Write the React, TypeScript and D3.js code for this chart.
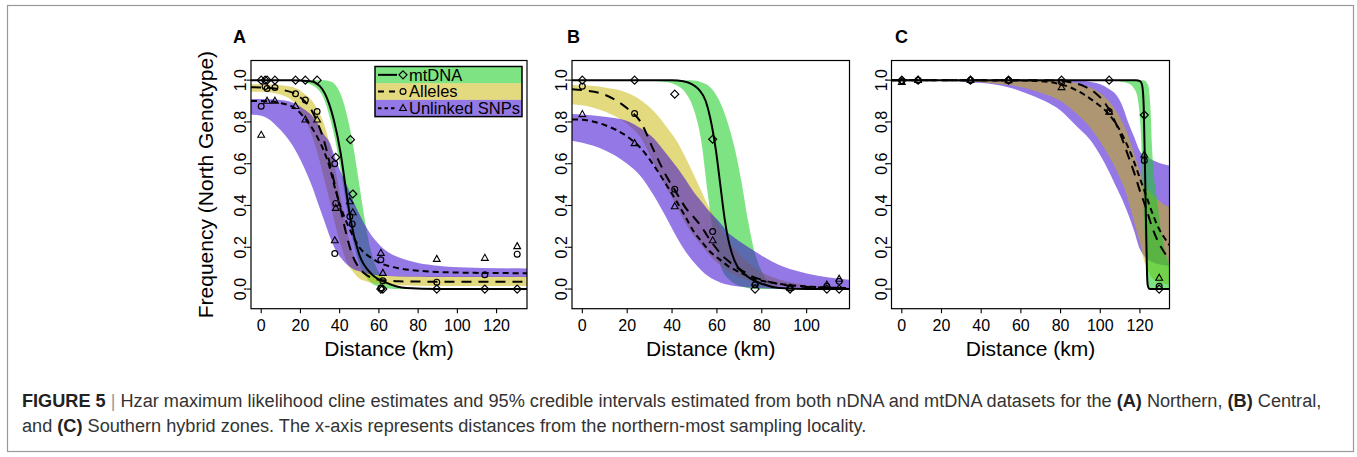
import React from "react";
import * as d3 from "d3";

type Band = [number, number, number][]; // km, lower, upper
type Pts = [number, number][]; // km, frequency

// ---------- Panel A (Northern) ----------
const aMtBand: Band = [
  [-5.2, 1, 1], [0, 1, 1], [10, 1, 1], [18, 0.997, 1], [22, 0.99, 1], [26, 0.975, 1],
  [29, 0.955, 1], [32, 0.91, 1], [35, 0.82, 0.995], [38, 0.7, 0.975], [41, 0.54, 0.92],
  [44, 0.37, 0.82], [47, 0.22, 0.68], [50, 0.12, 0.5], [53, 0.065, 0.32], [56, 0.03, 0.18],
  [60, 0.012, 0.08], [65, 0.003, 0.03], [70, 0, 0.012], [80, 0, 0.002], [90, 0, 0],
  [135.5, 0, 0],
];
const aAlBand: Band = [
  [-5.2, 0.945, 0.98], [0, 0.945, 0.98], [10, 0.93, 0.975], [18, 0.88, 0.96], [22, 0.82, 0.935],
  [26, 0.73, 0.9], [29, 0.64, 0.855], [32, 0.53, 0.79], [35, 0.42, 0.69], [38, 0.3, 0.56],
  [41, 0.2, 0.41], [44, 0.12, 0.27], [47, 0.08, 0.165], [50, 0.05, 0.11], [53, 0.038, 0.088],
  [56, 0.03, 0.075], [60, 0.025, 0.068], [65, 0.02, 0.064], [70, 0.018, 0.062],
  [80, 0.016, 0.061], [90, 0.015, 0.06], [135.5, 0.015, 0.06],
];
const aSnpBand: Band = [
  [-5.2, 0.835, 0.91], [0, 0.83, 0.91], [10, 0.76, 0.905], [18, 0.655, 0.885], [22, 0.58, 0.86],
  [26, 0.49, 0.83], [29, 0.41, 0.79], [32, 0.33, 0.74], [35, 0.25, 0.7], [38, 0.185, 0.62],
  [41, 0.145, 0.55], [44, 0.115, 0.49], [47, 0.095, 0.42], [50, 0.085, 0.36], [53, 0.077, 0.305],
  [56, 0.07, 0.26], [60, 0.066, 0.215], [65, 0.062, 0.175], [70, 0.06, 0.152], [80, 0.059, 0.125],
  [90, 0.058, 0.112], [105, 0.058, 0.103], [120, 0.058, 0.1], [135.5, 0.058, 0.098],
];
const aMtLine: Pts = [
  [-5.2, 1], [15, 1], [25, 0.995], [30, 0.97], [34.5, 0.89], [37, 0.81], [40.5, 0.65], [43, 0.49],
  [45.6, 0.33], [49.8, 0.17], [55.8, 0.076], [64, 0.03], [74, 0.005], [90, 0], [135.5, 0],
];
const aAlLine: Pts = [
  [-5.2, 0.966], [0, 0.965], [10, 0.955], [18, 0.93], [22, 0.9], [26, 0.85], [29, 0.79], [32, 0.71],
  [35, 0.6], [38, 0.48], [41, 0.36], [44, 0.24], [47, 0.15], [50, 0.1], [53, 0.072], [56, 0.055],
  [60, 0.045], [65, 0.04], [70, 0.037], [80, 0.036], [90, 0.035], [135.5, 0.035],
];
const aSnpLine: Pts = [
  [-5.2, 0.9], [0, 0.9], [10, 0.89], [18, 0.86], [22, 0.82], [26, 0.77], [29, 0.72], [32, 0.66],
  [35, 0.58], [38, 0.47], [41, 0.38], [44, 0.31], [47, 0.25], [50, 0.2], [53, 0.17], [56, 0.15],
  [60, 0.127], [65, 0.11], [70, 0.1], [80, 0.088], [90, 0.082], [105, 0.078], [135.5, 0.076],
];
const aMtPts: Pts = [
  [0, 1], [2, 1], [3, 1], [7, 1], [17.5, 1], [22.5, 1], [28.5, 1], [38, 0.63], [45.5, 0.715],
  [46.7, 0.455], [61, 0], [62, 0], [89.5, 0], [114, 0], [130.5, 0],
];
const aAlPts: Pts = [
  [0, 0.875], [2, 0.97], [3, 0.96], [7, 0.965], [17.5, 0.935], [22.5, 0.905], [28.5, 0.85],
  [37.5, 0.6], [38, 0.41], [37.5, 0.17], [45.2, 0.347], [46.4, 0.312], [61, 0.14], [62, 0.04],
  [61, 0.005], [89.5, 0.033], [114, 0.068], [130.5, 0.167],
];
const aSnpPts: Pts = [
  [0, 0.737], [3, 0.9], [7, 0.9], [17.5, 0.875], [22.5, 0.81], [28.5, 0.81], [37.5, 0.232],
  [38, 0.387], [45.2, 0.419], [46.7, 0.366], [61, 0.172], [62, 0.076], [89.5, 0.143],
  [114, 0.148], [130.5, 0.204],
];

// ---------- Panel B (Central) ----------
const bMtBand: Band = [
  [-4.6, 1, 1], [0, 1, 1], [10, 1, 1], [20, 0.999, 1], [26, 0.998, 1], [32, 0.996, 1],
  [38, 0.99, 1], [42, 0.975, 1], [46, 0.94, 1], [50, 0.85, 0.998], [53, 0.71, 0.99],
  [56, 0.45, 0.975], [59, 0.22, 0.94], [62, 0.1, 0.88], [65, 0.05, 0.79], [68, 0.025, 0.67],
  [71, 0.012, 0.51], [74, 0.004, 0.32], [77, 0.001, 0.17], [80, 0, 0.085], [85, 0, 0.02],
  [90, 0, 0.005], [100, 0, 0], [119.1, 0, 0],
];
const bAlBand: Band = [
  [-4.6, 0.885, 0.977], [0, 0.88, 0.975], [10, 0.85, 0.965], [20, 0.79, 0.94], [26, 0.725, 0.905],
  [32, 0.6, 0.85], [38, 0.475, 0.77], [42, 0.4, 0.71], [46, 0.315, 0.63], [50, 0.25, 0.54],
  [53, 0.21, 0.47], [56, 0.17, 0.4], [59, 0.135, 0.34], [62, 0.11, 0.29], [65, 0.085, 0.23],
  [68, 0.068, 0.19], [71, 0.054, 0.155], [74, 0.043, 0.125], [77, 0.034, 0.1], [80, 0.025, 0.08],
  [85, 0.017, 0.057], [90, 0.012, 0.04], [100, 0.006, 0.02], [110, 0.003, 0.012],
  [119.1, 0.002, 0.008],
];
const bSnpBand: Band = [
  [-4.6, 0.71, 0.838], [0, 0.7, 0.836], [10, 0.665, 0.825], [20, 0.6, 0.805], [26, 0.54, 0.77],
  [32, 0.445, 0.72], [38, 0.33, 0.64], [42, 0.25, 0.585], [46, 0.18, 0.525], [50, 0.125, 0.46],
  [53, 0.09, 0.42], [56, 0.062, 0.38], [59, 0.043, 0.345], [62, 0.029, 0.31], [65, 0.021, 0.27],
  [68, 0.015, 0.245], [71, 0.011, 0.222], [74, 0.008, 0.2], [77, 0.006, 0.18], [80, 0.004, 0.16],
  [85, 0.002, 0.13], [90, 0.001, 0.105], [100, 0, 0.075], [110, 0, 0.055], [119.1, 0, 0.045],
];
const bMtLine: Pts = [
  [-4.6, 1], [40, 1], [45, 0.995], [49, 0.98], [52, 0.955], [55, 0.9], [57, 0.82], [59.6, 0.66],
  [61.5, 0.5], [63.4, 0.34], [65, 0.24], [66.7, 0.17], [69, 0.11], [71.9, 0.075], [75, 0.05],
  [79.3, 0.028], [88, 0.005], [100, 0], [119.1, 0],
];
const bAlLine: Pts = [
  [-4.6, 0.957], [0, 0.952], [10, 0.93], [20, 0.865], [26, 0.8], [32, 0.66], [38, 0.53],
  [42, 0.46], [46, 0.39], [50, 0.34], [53, 0.3], [56, 0.25], [59, 0.205], [62, 0.165],
  [65, 0.135], [68, 0.11], [71, 0.09], [74, 0.07], [77, 0.055], [80, 0.045], [85, 0.03],
  [90, 0.02], [100, 0.01], [110, 0.006], [119.1, 0.004],
];
const bSnpLine: Pts = [
  [-4.6, 0.812], [0, 0.81], [10, 0.785], [20, 0.73], [26, 0.675], [32, 0.59], [38, 0.49],
  [42, 0.42], [46, 0.345], [50, 0.27], [53, 0.23], [56, 0.19], [59, 0.16], [62, 0.135],
  [65, 0.11], [68, 0.092], [71, 0.075], [74, 0.062], [77, 0.05], [80, 0.04], [85, 0.03],
  [90, 0.022], [100, 0.012], [110, 0.007], [119.1, 0.005],
];
const bMtPts: Pts = [
  [0, 1], [23.3, 1], [41.2, 0.933], [58.1, 0.717], [77, 0], [92.6, 0], [109, 0], [114.5, 0],
];
const bAlPts: Pts = [
  [0, 0.971], [23.3, 0.84], [41.2, 0.478], [58.1, 0.275], [77, 0.02], [92.6, 0.005],
  [109, 0.013], [114.5, 0.037],
];
const bSnpPts: Pts = [
  [0, 0.836], [23.3, 0.697], [41.2, 0.395], [58.1, 0.232], [77, 0.03], [92.6, 0.005],
  [109, 0.02], [114.5, 0.048],
];

// ---------- Panel C (Southern) ----------
const cMtBand: Band = [
  [-5.2, 1, 1], [100, 1, 1], [104, 1, 1], [108, 0.998, 1], [112, 0.99, 1], [115, 0.98, 1],
  [117, 0.96, 1], [118.5, 0.93, 1], [119.5, 0.87, 1], [120.3, 0.78, 1], [121, 0.62, 1],
  [121.5, 0.46, 0.999], [122.2, 0.3, 0.998], [123, 0.14, 0.995], [123.6, 0.05, 0.985],
  [124.2, 0.01, 0.975], [125, 0, 0.91], [125.4, 0, 0.85], [126, 0, 0.7], [127, 0, 0.55],
  [128.7, 0, 0.42], [130, 0, 0.32], [131.5, 0, 0.24], [133, 0, 0.17], [134.9, 0, 0.11],
];
const cAlBand: Band = [
  [-5.2, 1, 1], [0, 0.999, 1], [20, 0.997, 1], [35, 0.993, 1], [46, 0.985, 1], [55, 0.975, 1],
  [63, 0.96, 1], [70, 0.94, 0.998], [80, 0.9, 0.995], [88, 0.84, 0.985], [96, 0.76, 0.96],
  [101, 0.69, 0.93], [106, 0.61, 0.88], [110, 0.53, 0.82], [113, 0.46, 0.76], [116, 0.36, 0.68],
  [118, 0.29, 0.62], [120, 0.22, 0.56], [122, 0.14, 0.5], [124, 0.09, 0.475], [126, 0.055, 0.455],
  [128, 0.04, 0.435], [130, 0.03, 0.42], [132, 0.025, 0.405], [134.9, 0.02, 0.395],
];
const cSnpBand: Band = [
  [-5.2, 1, 1], [0, 0.999, 1], [20, 0.997, 1], [35, 0.99, 1], [46, 0.98, 1], [55, 0.962, 1],
  [63, 0.936, 1], [72, 0.9, 1], [80, 0.855, 1], [88, 0.78, 0.998], [96, 0.7, 0.99],
  [100, 0.64, 0.98], [104, 0.57, 0.96], [108, 0.49, 0.93], [111, 0.43, 0.88], [114, 0.36, 0.8],
  [117, 0.28, 0.73], [120, 0.19, 0.66], [122, 0.16, 0.64], [125, 0.135, 0.625],
  [128, 0.122, 0.61], [131, 0.115, 0.6], [134.9, 0.11, 0.59],
];
const cMtLine: Pts = [
  [-5.2, 1], [118, 1], [120, 0.995], [121, 0.98], [121.8, 0.9], [122.3, 0.7], [122.7, 0.5],
  [123.1, 0.3], [123.5, 0.1], [123.9, 0.02], [124.5, 0.003], [125, 0], [134.9, 0],
];
const cAlLine: Pts = [
  [-5.2, 1], [60, 1], [80, 0.997], [85, 0.99], [92, 0.97], [98, 0.935], [102, 0.895], [105, 0.85],
  [108, 0.79], [111, 0.72], [114, 0.64], [117, 0.56], [120, 0.47], [123, 0.39], [126, 0.3],
  [129, 0.23], [132, 0.18], [134.9, 0.14],
];
const cSnpLine: Pts = [
  [-5.2, 1], [60, 0.998], [70, 0.995], [80, 0.98], [85, 0.965], [92, 0.93], [98, 0.89],
  [102, 0.86], [105, 0.83], [108, 0.79], [111, 0.74], [114, 0.68], [117, 0.61], [120, 0.53],
  [123, 0.45], [126, 0.37], [129, 0.3], [132, 0.25], [134.9, 0.21],
];
const cMtPts: Pts = [
  [0, 1], [8.2, 1], [34.6, 1], [53.8, 1], [80.5, 1], [104.5, 1], [122.2, 0.833], [129.7, 0],
];
const cAlPts: Pts = [
  [0, 0.997], [8.2, 1], [34.6, 1], [53.8, 1], [80.5, 0.99], [104.5, 0.85], [122.2, 0.615],
  [129.7, 0.013],
];
const cSnpPts: Pts = [
  [0, 0.99], [8.2, 1], [34.6, 1], [53.8, 0.998], [80.5, 0.965], [104.5, 0.848], [122.2, 0.642],
  [129.7, 0.053],
];

const yTicks = [0, 0.2, 0.4, 0.6, 0.8, 1.0];
const legendLabels = ["mtDNA", "Alleles", "Unlinked SNPs"];

const fills: Record<string, string> = {
  mt: "rgba(20,205,30,0.55)",
  al: "rgba(200,180,0,0.5)",
  snp: "rgba(60,10,210,0.55)",
};
const dashes: Record<string, string | undefined> = { mt: undefined, al: "10 7", snp: "6 4" };

const FONT = "'Liberation Sans', Arial, Helvetica, sans-serif";
const yDom: [number, number] = [-0.094, 1.094];
const yRange: [number, number] = [308.7, 60.5];

const panels = [
  {
    id: "A", letterX: 233, xDomain: [-5.2, 135.5], xRange: [251, 527],
    xTicks: [0, 20, 40, 60, 80, 100, 120], order: ["mt", "al", "snp"], legend: true, yTitle: true,
    bands: { mt: aMtBand, al: aAlBand, snp: aSnpBand },
    lines: { mt: aMtLine, al: aAlLine, snp: aSnpLine },
    pts: { mt: aMtPts, al: aAlPts, snp: aSnpPts },
  },
  {
    id: "B", letterX: 567, xDomain: [-4.6, 119.1], xRange: [572, 849.5],
    xTicks: [0, 20, 40, 60, 80, 100], order: ["mt", "al", "snp"], legend: false, yTitle: false,
    bands: { mt: bMtBand, al: bAlBand, snp: bSnpBand },
    lines: { mt: bMtLine, al: bAlLine, snp: bSnpLine },
    pts: { mt: bMtPts, al: bAlPts, snp: bSnpPts },
  },
  {
    id: "C", letterX: 895, xDomain: [-5.2, 134.9], xRange: [891.5, 1169.5],
    xTicks: [0, 20, 40, 60, 80, 100, 120], order: ["snp", "al", "mt"], legend: false, yTitle: false,
    bands: { mt: cMtBand, al: cAlBand, snp: cSnpBand },
    lines: { mt: cMtLine, al: cAlLine, snp: cSnpLine },
    pts: { mt: cMtPts, al: cAlPts, snp: cSnpPts },
  },
];

function Marker({ kind, cx, cy }: { kind: string; cx: number; cy: number }) {
  if (kind === "mt") {
    const s = 4;
    return <path d={`M${cx},${cy - s}L${cx + s},${cy}L${cx},${cy + s}L${cx - s},${cy}Z`} fill="none" stroke="#000" strokeWidth={1.2} />;
  }
  if (kind === "al") return <circle cx={cx} cy={cy} r={2.9} fill="none" stroke="#000" strokeWidth={1.2} />;
  return <path d={`M${cx},${cy - 3.8}L${cx + 3.4},${cy + 2.2}L${cx - 3.4},${cy + 2.2}Z`} fill="none" stroke="#000" strokeWidth={1.1} />;
}

function Panel({ p }: { p: any }) {
  const x = d3.scaleLinear().domain(p.xDomain).range(p.xRange);
  const y = d3.scaleLinear().domain(yDom).range(yRange);
  const area = d3.area<[number, number, number]>()
    .x((d) => x(d[0])).y0((d) => y(d[1])).y1((d) => y(d[2])).curve(d3.curveMonotoneX);
  const line = d3.line<[number, number]>()
    .x((d) => x(d[0])).y((d) => y(d[1])).curve(d3.curveMonotoneX);
  const [x0, x1] = p.xRange;
  const [yb, yt] = yRange;
  const clipId = `clip-${p.id}`;
  const lx = 375, ly = 66.5, lw = 147, rh = 16.7;

  return (
    <g>
      <defs>
        <clipPath id={clipId}>
          <rect x={x0} y={yt} width={x1 - x0} height={yb - yt} />
        </clipPath>
      </defs>
      <g clipPath={`url(#${clipId})`}>
        {p.order.map((k: string) => (
          <path key={k} d={area(p.bands[k]) || ""} fill={fills[k]} stroke="none" />
        ))}
        {["mt", "al", "snp"].map((k) => (
          <path key={k} d={line(p.lines[k]) || ""} fill="none" stroke="#000" strokeWidth={2} strokeDasharray={dashes[k]} />
        ))}
        {["mt", "al", "snp"].map((k) =>
          p.pts[k].map((d: [number, number], i: number) => (
            <Marker key={k + i} kind={k} cx={x(d[0])} cy={y(d[1])} />
          ))
        )}
      </g>
      <rect x={x0} y={yt} width={x1 - x0} height={yb - yt} fill="none" stroke="#000" strokeWidth={1.2} />
      {p.xTicks.map((t: number) => (
        <g key={t}>
          <line x1={x(t)} x2={x(t)} y1={yb} y2={yb + 4.5} stroke="#000" strokeWidth={1.1} />
          <text x={x(t)} y={331} textAnchor="middle" fontSize={16} fontFamily={FONT}>{t}</text>
        </g>
      ))}
      {yTicks.map((t) => (
        <g key={t}>
          <line x1={x0 - 4.5} x2={x0} y1={y(t)} y2={y(t)} stroke="#000" strokeWidth={1.1} />
          <text transform={`translate(${x0 - 5},${y(t)}) rotate(-90)`} textAnchor="middle" fontSize={16} fontFamily={FONT}>
            {t.toFixed(1)}
          </text>
        </g>
      ))}
      <text x={(x0 + x1) / 2} y={356} textAnchor="middle" fontSize={21} fontFamily={FONT}>Distance (km)</text>
      {p.yTitle && (
        <text transform={`translate(212.5,${(yb + yt) / 2}) rotate(-90)`} textAnchor="middle" fontSize={21} fontFamily={FONT}>
          Frequency (North Genotype)
        </text>
      )}
      <text x={p.letterX} y={43.3} fontSize={18} fontWeight="bold" fontFamily={FONT}>{p.id}</text>
      {p.legend && (
        <g>
          {["mt", "al", "snp"].map((k, i) => (
            <g key={k}>
              <rect x={lx} y={ly + i * rh} width={lw} height={rh} fill={fills[k]} />
              <line x1={lx + 3} x2={lx + 22} y1={ly + i * rh + rh / 2} y2={ly + i * rh + rh / 2} stroke="#000" strokeWidth={2} strokeDasharray={k === "al" ? "6 5" : k === "snp" ? "3.5 3" : undefined} />
              <Marker kind={k} cx={lx + 28} cy={ly + i * rh + rh / 2} />
              <text x={lx + 34} y={ly + i * rh + rh / 2 + 5.8} fontSize={16.5} fontFamily={FONT}>{legendLabels[i]}</text>
            </g>
          ))}
          <rect x={lx} y={ly} width={lw} height={rh * 3} fill="none" stroke="#000" strokeWidth={1.5} />
        </g>
      )}
    </g>
  );
}

export default function App() {
  return (
    <svg width={1357} height={457} style={{ position: "absolute", left: 0, top: 0, background: "#fff" }}>
      <rect x={0} y={0} width={1357} height={457} fill="#fff" />
      <rect x={7.5} y={5.5} width={1346} height={446} fill="none" stroke="#999" strokeWidth={1.2} />
      {panels.map((p) => <Panel key={p.id} p={p} />)}
      <text x={22} y={406.5} fontSize={18.15} fontFamily={FONT} fill="#333">
        <tspan fontWeight="bold" fill="#222">FIGURE 5</tspan>
        <tspan fill="#999"> | </tspan>
        Hzar maximum likelihood cline estimates and 95% credible intervals estimated from both nDNA and mtDNA datasets for the{" "}
        <tspan fontWeight="bold" fill="#222">(A)</tspan> Northern, <tspan fontWeight="bold" fill="#222">(B)</tspan> Central,
      </text>
      <text x={22} y={432} fontSize={18.15} fontFamily={FONT} fill="#333">
        and <tspan fontWeight="bold" fill="#222">(C)</tspan> Southern hybrid zones. The x-axis represents distances from the northern-most sampling locality.
      </text>
    </svg>
  );
}
